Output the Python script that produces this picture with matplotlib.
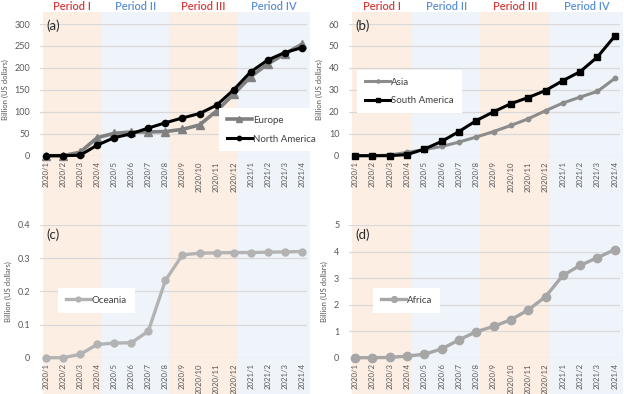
import numpy as np
import matplotlib
matplotlib.use("Agg")
import matplotlib.pyplot as plt
import matplotlib.transforms as mtransforms
from matplotlib.patches import Rectangle

plt.rcParams['font.family'] = ['Lato', 'DejaVu Sans']

months = ['2020/1', '2020/2', '2020/3', '2020/4', '2020/5', '2020/6', '2020/7', '2020/8',
          '2020/9', '2020/10', '2020/11', '2020/12', '2021/1', '2021/2', '2021/3', '2021/4']

europe = [0, 0, 8, 41, 51, 54, 54, 55, 60, 70, 102, 140, 180, 209, 232, 254]
north_america = [0, 0, 1, 24, 41, 50, 63, 75, 86, 96, 115, 150, 191, 218, 235, 246]
asia = [0, 0, 0.3, 1.5, 2.8, 4.2, 6.2, 8.5, 11, 13.8, 16.8, 20.5, 24, 26.7, 29.3, 35.2]
south_america = [0, 0, 0, 0.5, 3, 6.5, 11, 16, 20, 23.7, 26.5, 29.7, 34.2, 38.3, 45, 54.5]
oceania = [0, 0, 0.01, 0.04, 0.044, 0.045, 0.08, 0.233, 0.31, 0.315, 0.316, 0.317,
           0.317, 0.318, 0.319, 0.32]
africa = [0, 0, 0.01, 0.06, 0.13, 0.33, 0.67, 0.98, 1.18, 1.43, 1.8, 2.3, 3.1, 3.48, 3.77, 4.07]

periods = ['Period I', 'Period II', 'Period III', 'Period IV']
period_edges = [-0.2, 3.3, 7.22, 11.26, 15.45]
period_fill = ['#fdeee4', '#eff4fb', '#fdeee4', '#eff4fb']
period_text = ['#d63b3b', '#5b8fd6', '#d63b3b', '#5b8fd6']

W, H = 624, 394
fig = plt.figure(figsize=(W / 100, H / 100), dpi=100)


def px_axes(x0, x1, ytop, ybot):
    return fig.add_axes([x0 / W, 1 - ybot / H, (x1 - x0) / W, (ybot - ytop) / H])


ax_a = px_axes(40, 307, 24, 155.7)
ax_b = px_axes(349, 620, 24, 155.7)
ax_c = px_axes(40, 307, 225, 357.7)
ax_d = px_axes(349, 620, 225, 357.7)

x = np.arange(len(months))
grey_txt = '#595959'


def style(ax, ymax, step, label, fmt=None, label_y=0.985):
    ax.set_facecolor('none')
    ax.set_xlim(-0.35, 15.3)
    ax.set_ylim(0, ymax)
    ticks = np.arange(0, ymax + step / 2, step)
    ax.set_yticks(ticks)
    if fmt:
        ax.set_yticklabels([fmt(t) for t in ticks])
    ax.set_xticks(x)
    ax.set_xticklabels(months, rotation=90)
    ax.tick_params(length=0, colors=grey_txt)
    ax.tick_params(axis='y', pad=7, labelsize=6.5)
    ax.tick_params(axis='x', pad=4, labelsize=5.6)
    ax.grid(axis='y', color='#d9d9d9', lw=0.9)
    ax.set_axisbelow(True)
    for s in ax.spines.values():
        s.set_visible(False)
    ax.set_ylabel('Billion (US dollars)', fontsize=5.5, color=grey_txt, labelpad=4)
    ax.text(0.025, label_y, label, transform=ax.transAxes, fontsize=9.5,
            color='#262626', va='center', ha='left')


def shade(ax, top=True):
    tr = mtransforms.blended_transform_factory(ax.transData, fig.transFigure)
    for i in range(4):
        r = Rectangle((period_edges[i], 0), period_edges[i + 1] - period_edges[i],
                      1 - 12 / H, transform=tr, facecolor=period_fill[i],
                      edgecolor='none', zorder=-10, clip_on=False)
        ax.add_patch(r)
        if top:
            ax.text((period_edges[i] + period_edges[i + 1]) / 2, 1 - 6 / H, periods[i],
                    transform=tr, ha='center', va='center', fontsize=8,
                    fontweight='semibold', color=period_text[i])


shade(ax_a)
shade(ax_b)

style(ax_a, 300, 50, '(a)')
style(ax_b, 60, 10, '(b)')
style(ax_c, 0.4, 0.1, '(c)', fmt=lambda t: '0' if t == 0 else f'{t:.1f}', label_y=0.93)
style(ax_d, 5, 1, '(d)', label_y=0.93)

ax_a.plot(x, europe, color='#808080', lw=2.6, marker='^', ms=6, label='Europe', clip_on=False)
ax_a.plot(x, north_america, color='#000000', lw=2.2, marker='o', ms=4.5,
          label='North America', clip_on=False)
ax_b.plot(x, asia, color='#8c8c8c', lw=2.2, marker='o', ms=3.2, label='Asia', clip_on=False)
ax_b.plot(x, south_america, color='#000000', lw=2.2, marker='s', ms=5,
          label='South America', clip_on=False)
ax_c.plot(x, oceania, color='#b3b3b3', lw=2.4, marker='o', ms=5, label='Oceania', clip_on=False)
ax_d.plot(x, africa, color='#a6a6a6', lw=2.4, marker='o', ms=6, label='Africa', clip_on=False)


def legend(ax, xf, yf):
    leg = ax.legend(loc='upper left', bbox_to_anchor=(xf, yf), borderaxespad=0,
                    fontsize=7, frameon=True, fancybox=False, handlelength=2.6,
                    handletextpad=0.1, labelspacing=1.0, borderpad=0.8,
                    markerscale=0.7, labelcolor='#404040')
    leg.get_frame().set_facecolor('white')
    leg.get_frame().set_edgecolor('none')
    leg.get_frame().set_alpha(1)


legend(ax_a, 0.67, 0.362)
legend(ax_b, 0.03, 0.651)
legend(ax_c, 0.067, 0.525)
legend(ax_d, 0.089, 0.525)

fig.savefig('out.png', dpi=100, facecolor='white')
